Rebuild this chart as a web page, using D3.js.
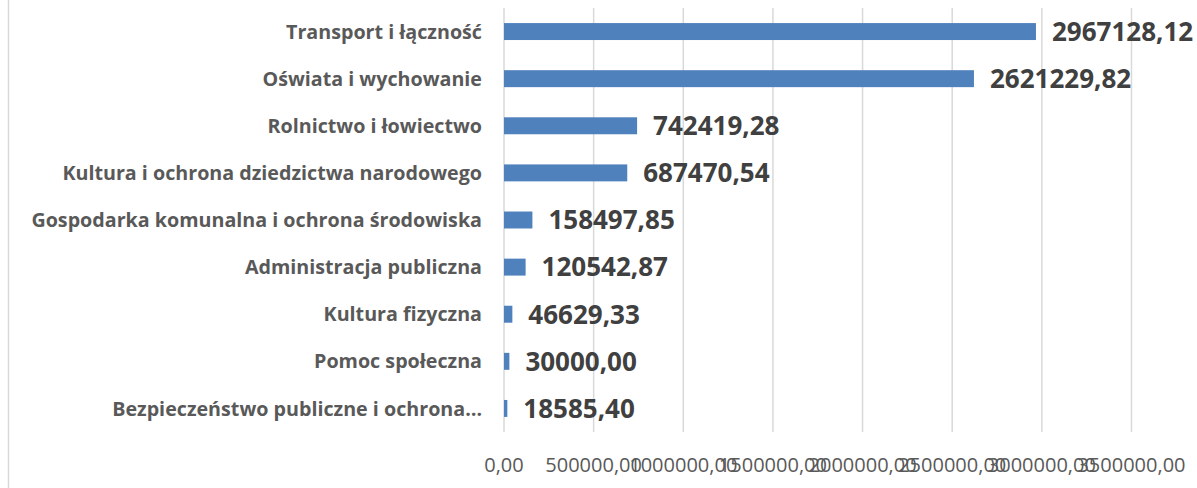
<!DOCTYPE html>
<html>
<head>
<meta charset="utf-8">
<script src="https://cdn.jsdelivr.net/npm/d3@7"></script>
<style>
  body { margin: 0; background: #fff; }
  svg { display: block; }
</style>
</head>
<body>
<svg id="chart" width="1197" height="488"></svg>
<script>
// chart data, top to bottom
const categories = [
  "Transport i łączność",
  "Oświata i wychowanie",
  "Rolnictwo i łowiectwo",
  "Kultura i ochrona dziedzictwa narodowego",
  "Gospodarka komunalna i ochrona środowiska",
  "Administracja publiczna",
  "Kultura fizyczna",
  "Pomoc społeczna",
  "Bezpieczeństwo publiczne i ochrona…"
];
const values = [2967128.12, 2621229.82, 742419.28, 687470.54, 158497.85, 120542.87, 46629.33, 30000.00, 18585.40];
const ticks = [0, 500000, 1000000, 1500000, 2000000, 2500000, 3000000, 3500000];

const svg = d3.select("#chart");
const fontFam = "'Open Sans', 'Noto Sans', sans-serif";

// plot area
const plotLeft = 504, plotRight = 1131.5, plotTop = 8, plotBottom = 432;

const x = d3.scaleLinear().domain([0, 3500000]).range([plotLeft, plotRight]);
const y = d3.scaleBand().domain(categories).range([plotTop, plotBottom]).paddingInner(0.64).paddingOuter(0.32);

// format like 2967128,12
const fmt = v => v.toFixed(2).replace(".", ",");

// outer frame line on the left
svg.append("line")
  .attr("x1", 8.5).attr("x2", 8.5).attr("y1", 0).attr("y2", 488)
  .style("stroke", "#d9d9d9").style("stroke-width", 1.5);

// gridlines
svg.append("g").selectAll("line")
  .data(ticks)
  .join("line")
  .attr("x1", d => x(d)).attr("x2", d => x(d))
  .attr("y1", plotTop).attr("y2", plotBottom)
  .style("stroke", "#d9d9d9")
  .style("stroke-width", 1.5);

// bars
svg.append("g").selectAll("rect")
  .data(values)
  .join("rect")
  .attr("x", x(0))
  .attr("y", (d, i) => y(categories[i]))
  .attr("width", d => x(d) - x(0))
  .attr("height", y.bandwidth())
  .style("fill", "#4f81bd");

// value labels
svg.append("g").selectAll("text")
  .data(values)
  .join("text")
  .attr("x", d => x(d) + 16)
  .attr("y", (d, i) => y(categories[i]) + y.bandwidth() / 2)
  .attr("dy", "0.36em")
  .style("font-family", fontFam)
  .style("font-weight", "bold")
  .style("font-size", "26px")
  .style("fill", "#404040")
  .text(d => fmt(d));

// category labels
svg.append("g").selectAll("text")
  .data(categories)
  .join("text")
  .attr("x", 482)
  .attr("y", d => y(d) + y.bandwidth() / 2)
  .attr("dy", "0.36em")
  .attr("text-anchor", "end")
  .style("font-family", fontFam)
  .style("font-weight", "bold")
  .style("font-size", "19.7px")
  .style("fill", "#595959")
  .text(d => d);

// tick labels
svg.append("g").selectAll("text")
  .data(ticks)
  .join("text")
  .attr("x", d => x(d))
  .attr("y", 472)
  .attr("text-anchor", "middle")
  .style("font-family", fontFam)
  .style("font-size", "20px")
  .style("fill", "#595959")
  .text(d => fmt(d));
</script>
</body>
</html>
